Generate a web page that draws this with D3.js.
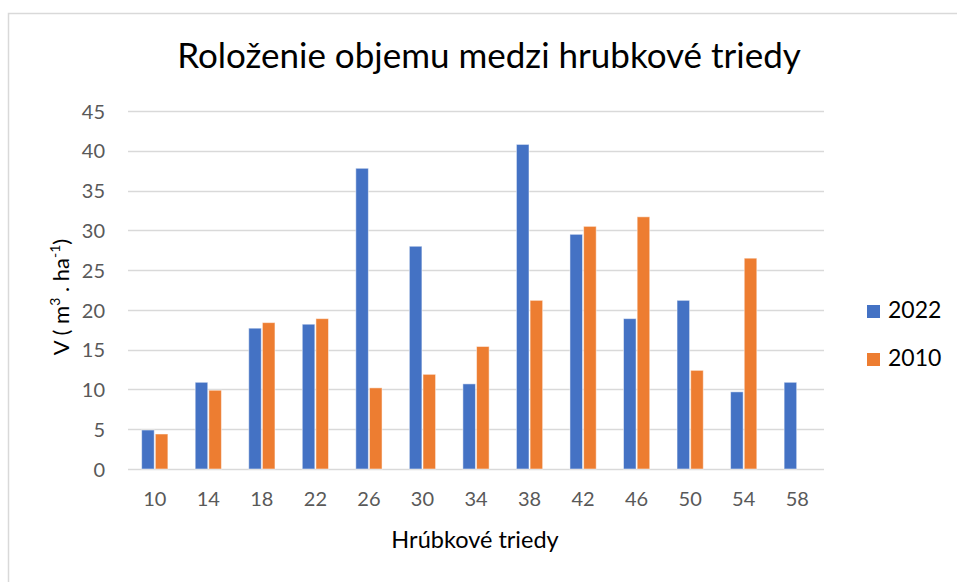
<!DOCTYPE html>
<html>
<head>
<meta charset="utf-8">
<script src="https://cdn.jsdelivr.net/npm/d3@7"></script>
<style>
  body { margin: 0; background: #fff; }
  text { font-family: Lato, "Open Sans", sans-serif; }
</style>
</head>
<body>
<script>
const width = 957;
const height = 582;

// data
const classes = ["10", "14", "18", "22", "26", "30", "34", "38", "42", "46", "50", "54", "58"];
const values2022 = [4.9, 10.9, 17.7, 18.2, 37.8, 28.0, 10.7, 40.8, 29.5, 18.9, 21.2, 9.7, 10.9];
const values2010 = [4.4, 9.9, 18.4, 18.9, 10.2, 11.9, 15.4, 21.2, 30.5, 31.7, 12.4, 26.5, null];
const seriesNames = ["2022", "2010"];
const seriesColors = ["#4472c4", "#ed7d31"];
const yTicks = [0, 5, 10, 15, 20, 25, 30, 35, 40, 45];

const margin = { left: 128, right: 957 - 824, top: 111, bottom: 582 - 469 };

const svg = d3.select("body").append("svg")
  .attr("width", width)
  .attr("height", height);

// outer chart border
svg.append("rect")
  .attr("x", 8.5).attr("y", 13.5)
  .attr("width", 960).attr("height", 600)
  .attr("fill", "#fff")
  .attr("stroke", "#d9d9d9")
  .attr("stroke-width", 1.5);

const x = d3.scaleBand()
  .domain(classes)
  .range([margin.left, width - margin.right])
  .paddingInner(0.51)
  .paddingOuter(0.255);

const x1 = d3.scaleBand()
  .domain(seriesNames)
  .range([0, x.bandwidth()])
  .paddingInner(0.08);

const y = d3.scaleLinear()
  .domain([0, 45])
  .range([height - margin.bottom, margin.top]);

// gridlines
svg.append("g")
  .selectAll("line")
  .data(yTicks)
  .join("line")
  .attr("x1", margin.left)
  .attr("x2", width - margin.right)
  .attr("y1", d => Math.round(y(d)) + 0.5)
  .attr("y2", d => Math.round(y(d)) + 0.5)
  .attr("stroke", "#d9d9d9")
  .attr("stroke-width", 1.3);

// y axis labels
const yAxis = svg.append("g")
  .attr("transform", `translate(${margin.left - 23},0)`)
  .call(d3.axisLeft(y).tickValues(yTicks).tickSize(0).tickPadding(0));
yAxis.select(".domain").remove();
yAxis.selectAll("text")
  .attr("font-size", 20)
  .attr("dy", "0.36em")
  .attr("fill", "#595959")
  .style("font-family", "Lato, sans-serif");

// x axis labels
const xAxis = svg.append("g")
  .attr("transform", `translate(0,${height - margin.bottom})`)
  .call(d3.axisBottom(x).tickSize(0).tickPadding(0));
xAxis.select(".domain").remove();
xAxis.selectAll("text")
  .attr("y", 37)
  .attr("dy", 0)
  .attr("font-size", 20)
  .attr("fill", "#595959")
  .style("font-family", "Lato, sans-serif");

// bars
const rows = classes.map((c, i) => ({ c, vals: [values2022[i], values2010[i]] }));
const groups = svg.append("g")
  .selectAll("g")
  .data(rows)
  .join("g")
  .attr("transform", d => `translate(${x(d.c)},0)`);

groups.selectAll("rect")
  .data(d => d.vals.map((v, j) => ({ v, s: seriesNames[j], j })).filter(e => e.v != null))
  .join("rect")
  .attr("x", d => x1(d.s))
  .attr("width", x1.bandwidth())
  .attr("y", d => y(d.v))
  .attr("height", d => y(0) - y(d.v))
  .attr("fill", d => seriesColors[d.j])
  .attr("stroke", "#fff")
  .attr("stroke-opacity", 0.5)
  .attr("stroke-width", 1);

// title
svg.append("text")
  .attr("x", 489)
  .attr("y", 68)
  .attr("text-anchor", "middle")
  .attr("font-size", 35)
  .attr("fill", "#000")
  .text("Roloženie objemu medzi hrubkové triedy");

// x axis title
svg.append("text")
  .attr("x", 475)
  .attr("y", 548)
  .attr("text-anchor", "middle")
  .attr("font-size", 23.5)
  .attr("fill", "#000")
  .text("Hrúbkové triedy");

// y axis title
const yt = svg.append("text")
  .attr("transform", "translate(69,297) rotate(-90)")
  .attr("text-anchor", "middle")
  .attr("font-size", 22)
  .attr("fill", "#000");
yt.append("tspan").text("V ( m");
yt.append("tspan").attr("font-size", 14).attr("dy", -9).text("3");
yt.append("tspan").attr("dy", 9).text(" . ha");
yt.append("tspan").attr("font-size", 14).attr("dy", -9).text("-1");
yt.append("tspan").attr("dy", 9).text(")");

// legend
const legend = svg.append("g")
  .selectAll("g")
  .data(seriesNames)
  .join("g")
  .attr("transform", (d, i) => `translate(867,${305 + i * 48})`);
legend.append("rect")
  .attr("width", 13).attr("height", 13)
  .attr("fill", (d, i) => seriesColors[i]);
legend.append("text")
  .attr("x", 21)
  .attr("y", 13)
  .attr("font-size", 23)
  .attr("fill", "#000")
  .text(d => d);
</script>
</body>
</html>
